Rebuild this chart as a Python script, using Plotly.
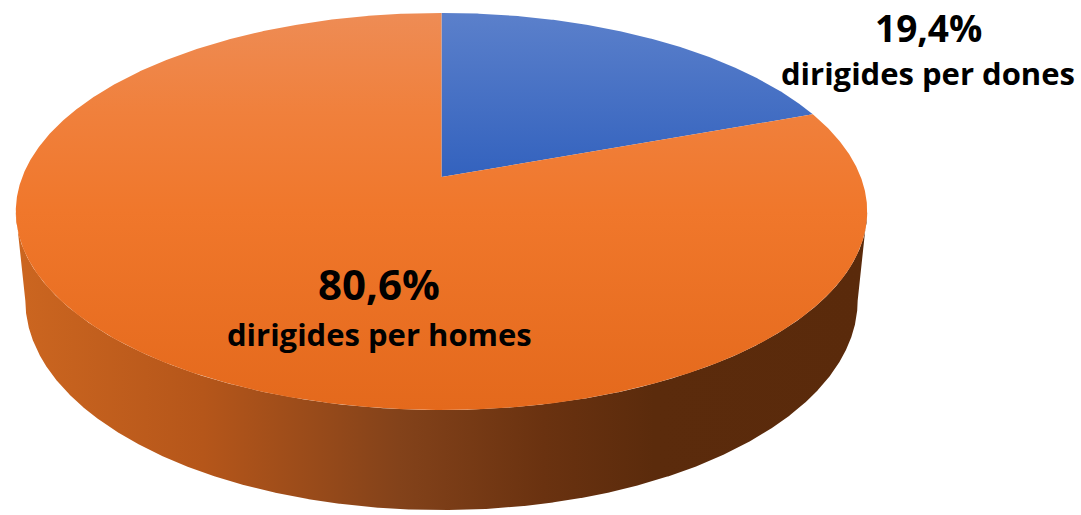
import numpy as np
import plotly.graph_objects as go

# ---- data ----
categories = ["dirigides per dones", "dirigides per homes"]
values = [19.4, 80.6]
value_labels = ["19,4%", "80,6%"]
top_scales = [
    [[0, "#5B80CB"], [1, "#3362BE"]],
    [[0, "#EE8C55"], [0.25, "#F0803C"], [0.5, "#F0772B"], [1, "#E4691C"]],
]
side_colors = [[0, "#CC6620"], [0.22, "#B5561A"], [0.45, "#83421A"],
               [0.62, "#6A3210"], [0.75, "#5B2B0C"], [1, "#5A2A0B"]]

# ---- projection of a tilted 3D disc (perspective) ----
CX, CY = 441.5, 177.0
D = 5.10
F = 2117.0 * 1.01
FY = 2117.0
S = 0.464
C = np.sqrt(1 - S * S)
H = 0.245

W, HGT = 1081, 515


def proj(theta_deg, r, h):
    t = np.radians(theta_deg)
    u = r * np.sin(t)
    v = r * np.cos(t)
    yc = v * S + h * C
    zc = D + v * C - h * S
    return CX + F * u / zc, CY - FY * yc / zc


fig = go.Figure()

# side wall (front part only)
th = np.linspace(60, 300, 2401)
xt, yt = proj(th, 1.0, 0.0)
xb, yb = proj(th, 1.0, -H)
iRt, iLt = np.argmax(xt), np.argmin(xt)
iRb, iLb = np.argmax(xb), np.argmin(xb)
sx = np.concatenate([xt[iRt:iLt + 1], xb[iLb:iRb - 1:-1]])
sy = np.concatenate([yt[iRt:iLt + 1], yb[iLb:iRb - 1:-1]])
fig.add_trace(go.Scatter(
    x=sx, y=sy, mode="lines", fill="toself", line=dict(width=0),
    fillgradient=dict(type="horizontal", colorscale=side_colors,
                      start=float(xt.min()), stop=float(xt.max())),
    hoverinfo="skip", showlegend=False))

# top faces
total = sum(values)
start = 0.0
vx, vy = proj(0, 0.0, 0.0)
for name, val, cs in zip(categories, values, top_scales):
    span = 360.0 * val / total
    a = np.linspace(start, start + span, max(int(span * 4), 10))
    ax_, ay_ = proj(a, 1.0, 0.0)
    px = np.concatenate([[vx], ax_, [vx]])
    py = np.concatenate([[vy], ay_, [vy]])
    fig.add_trace(go.Scatter(
        x=px, y=py, mode="lines", fill="toself", line=dict(width=0),
        fillgradient=dict(type="vertical", colorscale=cs,
                          start=float(py.min()), stop=float(py.max())),
        name=name, hoverinfo="name", showlegend=False))
    start += span

FONT = "Open Sans"
fig.add_annotation(x=928, y=27, text="<b>%s</b>" % value_labels[0],
                   showarrow=False, font=dict(family=FONT, size=37, color="#000"))
fig.add_annotation(x=928, y=73, text="<b>%s</b>" % categories[0],
                   showarrow=False, font=dict(family=FONT, size=31, color="#000"))
fig.add_annotation(x=379, y=283, text="<b>%s</b>" % value_labels[1],
                   showarrow=False, font=dict(family=FONT, size=42, color="#000"))
fig.add_annotation(x=379, y=334, text="<b>%s</b>" % categories[1],
                   showarrow=False, font=dict(family=FONT, size=31, color="#000"))

fig.update_xaxes(range=[0, W], visible=False, fixedrange=True)
fig.update_yaxes(range=[HGT, 0], visible=False, fixedrange=True)
fig.update_layout(width=W, height=HGT,
                  margin=dict(l=0, r=0, t=0, b=0),
                  plot_bgcolor="white", paper_bgcolor="white")
fig.write_html("out.html",
               config={"displayModeBar": False},
               post_script="document.body.style.margin='0';"
                           "document.body.style.overflow='hidden';")
